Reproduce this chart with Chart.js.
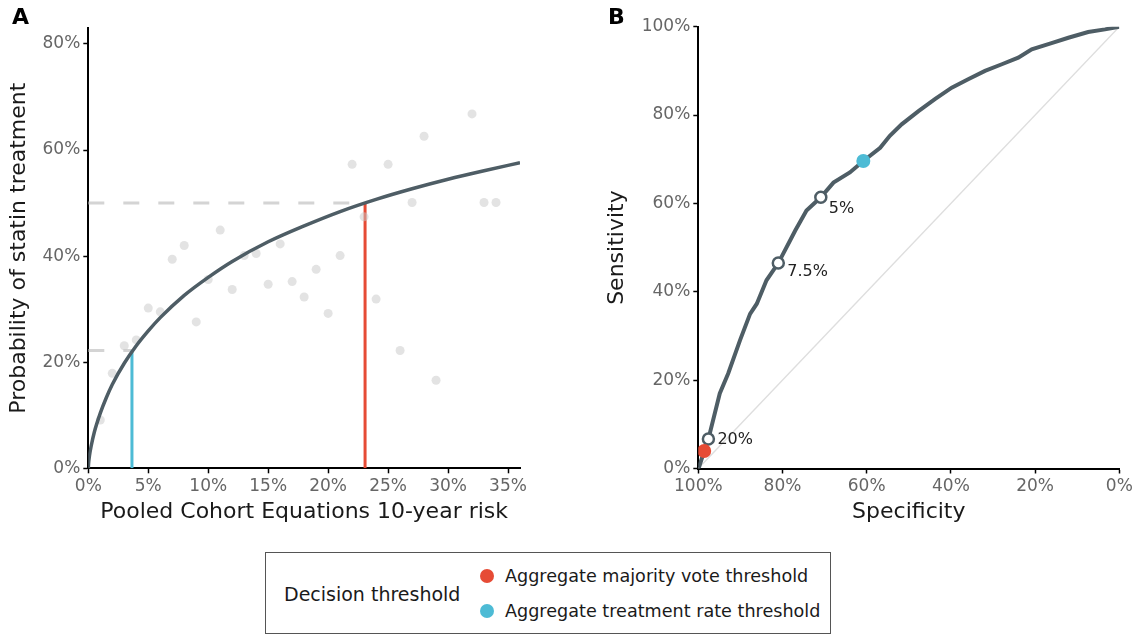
<!DOCTYPE html>
<html>
<head>
<meta charset="utf-8">
<script src="https://cdn.jsdelivr.net/npm/chart.js@4.4.1/dist/chart.umd.min.js"></script>
<style>
  body { margin: 0; background: #fff; font-family: "DejaVu Sans", sans-serif; }
  #wrap { position: relative; width: 1138px; height: 637px; overflow: hidden; }
  canvas { position: absolute; top: 0; }
  #chartA { left: 0; }
  #chartB { left: 600px; }
  .tag { position: absolute; font-weight: bold; font-size: 22px; color: #000; }
  #legend { position: absolute; left: 265px; top: 552px; width: 566px; height: 82px; border: 1px solid #555; box-sizing: border-box; }
  #legend .title { position: absolute; left: 18px; top: 30px; font-size: 19px; color: #1a1a1a; }
  #legend .item { position: absolute; left: 214px; font-size: 17.6px; color: #1a1a1a; }
  #legend .dot { display: inline-block; width: 14px; height: 14px; border-radius: 50%; margin-right: 11px; vertical-align: -1px; }
</style>
</head>
<body>
<div id="wrap">
  <canvas id="chartA" width="560" height="540"></canvas>
  <canvas id="chartB" width="538" height="540"></canvas>
  <div class="tag" style="left:12px; top:4px;">A</div>
  <div class="tag" style="left:608px; top:4px;">B</div>
  <div id="legend">
    <div class="title">Decision threshold</div>
    <div class="item" style="top:13px;"><span class="dot" style="background:#E64B35"></span>Aggregate majority vote threshold</div>
    <div class="item" style="top:48px;"><span class="dot" style="background:#4DBBD5"></span>Aggregate treatment rate threshold</div>
  </div>
</div>
<script>
// panel A: observed treatment rate per PCE risk bin
const riskPoints = [1, 2, 3, 4, 5, 6, 7, 8, 9, 10, 11, 12, 13, 14, 15, 16, 17, 18, 19, 20, 21, 22, 23, 24, 25, 26, 27, 28, 29, 32, 33, 34];
const treatRate = [9.1, 17.9, 23.1, 24.2, 30.2, 29.5, 39.4, 42.0, 27.6, 35.6, 44.9, 33.7, 40.1, 40.5, 34.7, 42.3, 35.2, 32.3, 37.5, 29.2, 40.1, 57.3, 47.4, 31.9, 57.3, 22.2, 50.1, 62.6, 16.6, 66.8, 50.1, 50.1];

// fitted curve
const fitRisk = [0, 0.02, 0.1, 0.25, 0.5, 1, 1.5, 2, 3, 4, 5, 6, 8, 10, 12, 15, 18, 21, 24, 27, 30, 33, 36];
const fitProb = [0, 0.8, 2.4, 4.3, 6.8, 10.4, 13.3, 15.8, 19.8, 23.1, 25.9, 28.4, 32.6, 36.0, 39.0, 42.7, 45.7, 48.4, 50.7, 52.7, 54.5, 56.1, 57.6];

// thresholds (risk %, probability %)
const majorityRisk = 23.08, majorityProb = 50;
const rateRisk = 3.64, rateProb = 22.2;

const riskTicks = [0, 5, 10, 15, 20, 25, 30, 35];
const probTicks = [0, 20, 40, 60, 80];

// panel B: ROC curve
const rocSpec = [100, 99.8, 98.6, 97.6, 94.9, 92.9, 90.1, 87.7, 86.1, 83.8, 81.0, 78.2, 77.0, 74.3, 70.9, 67.9, 64.0, 60.8, 56.8, 54.5, 51.7, 47.7, 43.8, 39.8, 35.9, 31.9, 27.9, 24.0, 20.8, 16.1, 12.1, 7.4, 3.4, 0];
const rocSens = [0, 0.4, 3.95, 6.7, 17.0, 21.5, 29.0, 35.0, 37.3, 42.6, 46.5, 51.6, 53.8, 58.4, 61.4, 64.7, 67.0, 69.6, 72.6, 75.3, 77.9, 80.9, 83.6, 86.2, 88.1, 90.0, 91.5, 93.0, 94.9, 96.3, 97.5, 98.8, 99.4, 100];

const cutoffLabels = ["20%", "7.5%", "5%"];
const cutoffSpec = [97.6, 81.0, 70.9];
const cutoffSens = [6.7, 46.5, 61.4];

const majoritySpec = 98.6, majoritySens = 3.95;
const rateSpec = 60.8, rateSens = 69.6;

const pctTicks = [0, 20, 40, 60, 80, 100];

const RED = "#E64B35";
const BLUE = "#4DBBD5";
const CURVE = "#4E5D65";

Chart.defaults.font.family = '"DejaVu Sans", sans-serif';

function xy(xs, ys) {
  return xs.map((x, i) => ({ x: x, y: ys[i] }));
}

function axis(min, max, ticks, title, titlePad, extra) {
  return Object.assign({
    type: "linear",
    min: min,
    max: max,
    afterBuildTicks: s => { s.ticks = ticks.map(v => ({ value: v })); },
    ticks: { callback: v => v + "%", color: "#666", font: { size: 17 }, padding: 3, maxRotation: 0 },
    grid: { drawOnChartArea: false, color: "#000", tickLength: 5, tickWidth: 1.5 },
    border: { color: "#000", width: 2 },
    title: { display: true, text: title, color: "#1a1a1a", font: { size: 22 }, padding: titlePad }
  }, extra);
}

// panel A
new Chart(document.getElementById("chartA"), {
  type: "scatter",
  data: {
    datasets: [
      {
        type: "line", data: xy(fitRisk, fitProb), borderColor: CURVE, borderWidth: 3.5,
        pointRadius: 0, cubicInterpolationMode: "monotone"
      },
      {
        data: xy(riskPoints, treatRate), backgroundColor: "rgba(200,200,200,0.5)",
        borderWidth: 0, pointRadius: 4.5
      },
      {
        type: "line", data: [{ x: majorityRisk, y: 0 }, { x: majorityRisk, y: majorityProb }],
        borderColor: RED, borderWidth: 3, pointRadius: 0
      },
      {
        type: "line", data: [{ x: rateRisk, y: 0 }, { x: rateRisk, y: rateProb }],
        borderColor: BLUE, borderWidth: 3, pointRadius: 0
      },
      {
        type: "line", data: [{ x: 0, y: majorityProb }, { x: majorityRisk, y: majorityProb }],
        borderColor: "#d4d4d4", borderWidth: 3, borderDash: [16, 19], pointRadius: 0
      },
      {
        type: "line", data: [{ x: 0, y: rateProb }, { x: rateRisk, y: rateProb }],
        borderColor: "#d4d4d4", borderWidth: 3, borderDash: [16, 19], pointRadius: 0
      }
    ]
  },
  options: {
    responsive: false,
    animation: false,
    layout: { padding: { top: 28, right: 40, left: 0, bottom: 0 } },
    plugins: { legend: { display: false }, tooltip: { enabled: false } },
    scales: {
      x: axis(0, 36, riskTicks, "Pooled Cohort Equations 10-year risk", { top: 0, bottom: 15 },
        { afterFit: s => { s.height = 540 - 468.3; } }),
      y: axis(0, 83, probTicks, "Probability of statin treatment", { top: 6, bottom: 0 },
        { afterFit: s => { s.width = 88.3; } })
    }
  }
});

// labels next to the open cutoff markers
const cutoffLabelPlugin = {
  id: "cutoffLabels",
  afterDatasetsDraw(chart) {
    const { ctx, scales } = chart;
    const dx = [9, 9, 8], dy = [1, 9, 12];
    ctx.save();
    ctx.font = '16px "DejaVu Sans"';
    ctx.fillStyle = "#222";
    ctx.textAlign = "left";
    ctx.textBaseline = "middle";
    cutoffLabels.forEach((t, i) => {
      const px = scales.x.getPixelForValue(cutoffSpec[i]);
      const py = scales.y.getPixelForValue(cutoffSens[i]);
      ctx.fillText(t, px + dx[i], py + dy[i]);
    });
    ctx.restore();
  }
};

// panel B
new Chart(document.getElementById("chartB"), {
  type: "scatter",
  data: {
    datasets: [
      {
        data: [{ x: majoritySpec, y: majoritySens }, { x: rateSpec, y: rateSens }],
        backgroundColor: [RED, BLUE], borderWidth: 0, pointRadius: 7
      },
      {
        data: xy(cutoffSpec, cutoffSens), backgroundColor: "#fff",
        borderColor: CURVE, borderWidth: 2.5, pointRadius: 5.5
      },
      {
        type: "line", data: xy(rocSpec, rocSens), borderColor: CURVE, borderWidth: 4,
        pointRadius: 0, tension: 0
      },
      {
        type: "line", data: [{ x: 100, y: 0 }, { x: 0, y: 100 }],
        borderColor: "#dedede", borderWidth: 1.3, pointRadius: 0
      }
    ]
  },
  options: {
    responsive: false,
    animation: false,
    layout: { padding: { top: 26.7, right: 18.7, left: 0, bottom: 0 } },
    plugins: { legend: { display: false }, tooltip: { enabled: false } },
    scales: {
      x: axis(0, 100, pctTicks, "Specificity", { top: 0, bottom: 15 },
        { reverse: true, afterFit: s => { s.height = 540 - 468.5; } }),
      y: axis(0, 100, pctTicks, "Sensitivity", { top: 4, bottom: 0 },
        { afterFit: s => { s.width = 98.3; } })
    }
  },
  plugins: [cutoffLabelPlugin]
});
</script>
</body>
</html>
